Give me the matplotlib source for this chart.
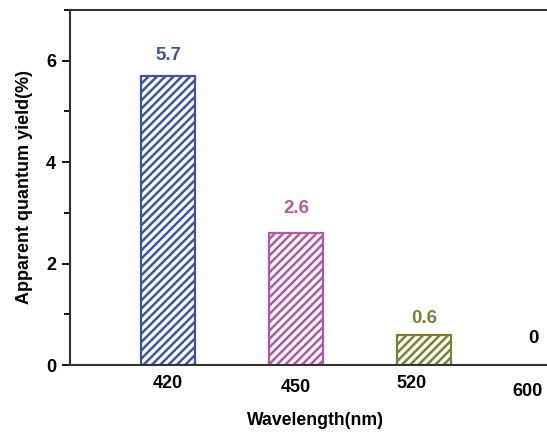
import matplotlib
matplotlib.use("Agg")
import matplotlib.pyplot as plt
from matplotlib.transforms import ScaledTranslation
from matplotlib.ticker import MultipleLocator

wavelengths = ["420", "450", "520", "600"]
aqy = [5.7, 2.6, 0.6, 0.0]
value_labels = ["5.7", "2.6", "0.6", "0"]
bar_pos = [0, 1, 2, 2.85]
tick_pos = [0, 1, 1.9, 2.81]
tick_drop = [0, 4, 0, 8]  # px extra downward shift of tick labels
label_off = [8.5, 11.5, 5.5, 13]  # points above bar top
colors = ["#3D54A4", "#B457A8", "#7D7F32", "#000000"]

plt.rcParams['font.family'] = ['Liberation Sans', 'DejaVu Sans']
plt.rcParams['font.weight'] = 'bold'
plt.rcParams['hatch.linewidth'] = 1.8

fig = plt.figure(figsize=(5.47, 4.33), dpi=100)
ax = fig.add_axes([70/547, 68/433, 490/547, 355/433])

for x, v, c in zip(bar_pos, aqy, colors):
    if v > 0:
        ax.bar(x, v, width=54/128, facecolor='white', edgecolor=c,
               hatch='////', linewidth=1.6, zorder=2)

for x, v, t, c, o in zip(bar_pos, aqy, value_labels, colors, label_off):
    ax.annotate(t, (x, v), xytext=(0, o), textcoords='offset points',
                ha='center', va='bottom', color=c, fontsize=13.5, fontweight='bold')

ax.set_xlim(-0.766, 3.06)
ax.set_ylim(0, 7)
ax.set_xticks(tick_pos)
ax.set_xticklabels(wavelengths)
ax.tick_params(axis='x', length=0, pad=7, labelsize=13)
ax.yaxis.set_major_locator(MultipleLocator(2))
ax.yaxis.set_minor_locator(MultipleLocator(1))
ax.tick_params(axis='y', which='major', direction='out', length=6, width=1.3, labelsize=13, pad=4)
ax.tick_params(axis='y', which='minor', direction='out', length=4, width=1.3)
for lbl, d in zip(ax.get_xticklabels(), tick_drop):
    lbl.set_transform(lbl.get_transform() + ScaledTranslation(0, -d/100, fig.dpi_scale_trans))
for lbl in ax.get_xticklabels() + ax.get_yticklabels():
    lbl.set_fontweight('bold')

for s in ax.spines.values():
    s.set_linewidth(1.5)
    s.set_color('#333333')

ax.set_xlabel("Wavelength(nm)", fontsize=12.7, fontweight='bold', labelpad=9)
ax.set_ylabel("Apparent quantum yield(%)", fontsize=13, fontweight='bold', labelpad=9)

fig.savefig("out.png", dpi=100)
